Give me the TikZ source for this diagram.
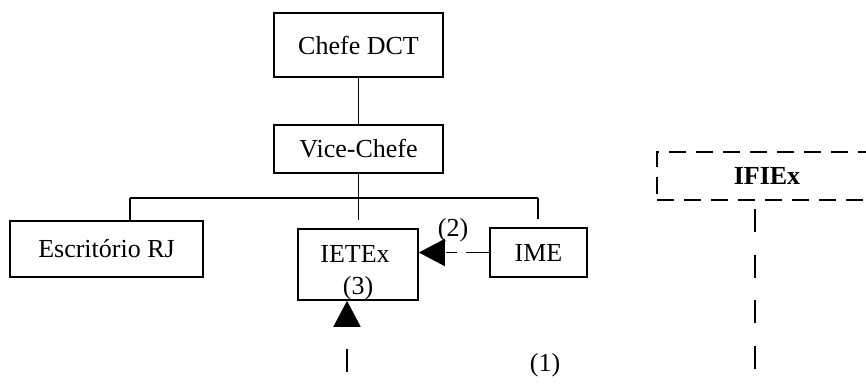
\documentclass[tikz,border=0pt]{standalone}
\usepackage{fontspec}
\setmainfont{Liberation Serif}
\usetikzlibrary{arrows.meta}

\begin{document}
\begin{tikzpicture}[x=1pt, y=-1pt, line width=1.6pt,
        unit/.style={draw, line width=1.6pt, inner sep=0pt, align=center,
            font=\fontsize{26}{33}\selectfont},
        plain/.style={inner sep=0pt, font=\fontsize{26}{30}\selectfont},
        bigtip/.style={-{Triangle[length=26pt, width=27pt]}}]
        \useasboundingbox (0,0) rectangle (866,385);
        \clip (0,0) rectangle (866,385);

        \node[unit, minimum width=169pt, minimum height=64pt] (chefe) at (358.5,45) {Chefe DCT};
        \node[unit, minimum width=169pt, minimum height=48pt] (vice) at (358.5,149) {Vice-Chefe};
        \node[unit, minimum width=193pt, minimum height=56pt] (escr) at (106.5,249) {Escritório RJ};
        \node[unit, minimum width=120pt, minimum height=71pt] (ietex) at (358,264.5) {};
        \node[plain] (ietexname) at (355,254) {IETEx};
        \node[plain] (ietexnum) at (358,288) {(3)};
        \node[unit, minimum width=97pt, minimum height=49pt] (ime) at (538.5,252.5) {IME};
        \node[unit, dash pattern=on 17pt off 10pt, line width=2.4pt,
            minimum width=220pt, minimum height=48pt, font=\fontsize{26}{33}\selectfont\bfseries]
            (ifiex) at (767,176) {IFIEx};

        \node[plain] (lbl2) at (453,230) {(2)};
        \node[plain] (lbl1) at (545,365) {(1)};

        \coordinate (busL) at (130,198);
        \coordinate (busR) at (538,198);
        \coordinate (src1) at (347,385);
        \coordinate (src2) at (755,385);

        \draw (chefe.south) -- (vice.south |- chefe.south) -- (vice.north);
        \draw (vice.south) -- (vice.south |- busL);
        \draw (busL) -- (busR);
        \draw (busL) -- (busL |- escr.north);
        \draw (vice.south |- busL) -- ([yshift=8pt]vice.south |- ietex.north);
        \draw (busR) -- ([yshift=8pt]busR |- ime.north);

        % dashed links
        \draw[bigtip, dash pattern=on 23pt off 9pt on 11pt off 40pt] (ime.west) -- (ietex.east |- ime.west);
        \draw[bigtip, dash pattern=on 0pt off 13pt on 23pt off 21pt] (src1) -- (src1 |- ietex.south);
        \draw[dash pattern=on 23pt off 22.5pt, dash phase=37.5pt] (src2 |- ifiex.south) -- (src2);
\end{tikzpicture}
\end{document}
